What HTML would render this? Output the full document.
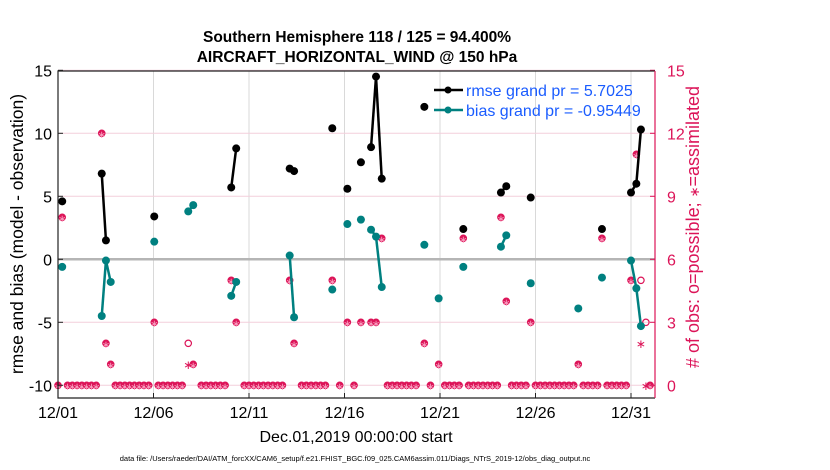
<!DOCTYPE html>
<html><head><meta charset="utf-8"><style>
html,body{margin:0;padding:0;background:#fff;}
svg{display:block;font-family:"Liberation Sans",Arial,sans-serif;}
</style></head><body>
<svg id="chart" width="830" height="470" viewBox="0 0 830 470" xmlns="http://www.w3.org/2000/svg">
<text x="357" y="42" text-anchor="middle" font-size="15.5" font-weight="bold">Southern Hemisphere 118 / 125 = 94.400%</text>
<text x="357" y="62" text-anchor="middle" font-size="15.5" font-weight="bold">AIRCRAFT_HORIZONTAL_WIND @ 150 hPa</text>
<g id="grid"></g>
<g id="marks"></g>
<g id="axes"></g>
<text x="356" y="442" text-anchor="middle" font-size="16">Dec.01,2019 00:00:00 start</text>
<text transform="translate(23,234) rotate(-90)" text-anchor="middle" font-size="17.5">rmse and bias (model - observation)</text>
<text transform="translate(699,227) rotate(-90)" text-anchor="middle" font-size="18" fill="#dc1458"># of obs: o=possible; <tspan font-size="13">∗</tspan>=assimilated</text>
<text x="355" y="461" text-anchor="middle" font-size="7.5">data file: /Users/raeder/DAI/ATM_forcXX/CAM6_setup/f.e21.FHIST_BGC.f09_025.CAM6assim.011/Diags_NTrS_2019-12/obs_diag_output.nc</text>
<g>
<line x1="434" y1="90" x2="463" y2="90" stroke="#000" stroke-width="2.5"/>
<circle cx="448" cy="90" r="3.5" fill="#000"/>
<text x="466" y="96" font-size="16" fill="#1a5cff">rmse grand pr = 5.7025</text>
<line x1="434" y1="110" x2="463" y2="110" stroke="#008080" stroke-width="2.5"/>
<circle cx="448" cy="110" r="3.5" fill="#008080"/>
<text x="466" y="116" font-size="16" fill="#1a5cff">bias grand pr = -0.95449</text>
</g>
</svg>
<script>
// data: times in days since 12/01 00:00
const times = [0.22,2.29,2.51,2.76,5.04,6.82,7.08,9.07,9.33,12.13,12.36,14.36,15.15,15.86,16.39,16.65,16.95,19.18,19.93,21.22,23.19,23.47,24.75,27.24,28.48,30.0,30.28,30.52,30.78];
const rmse = [4.6,6.8,1.5,null,3.4,null,null,5.7,8.8,7.2,7.0,10.4,5.6,7.7,8.9,14.5,6.4,12.1,null,2.4,5.3,5.8,4.9,null,2.4,5.3,6.0,10.3,null];
const bias = [-0.6,-4.5,-0.1,-1.8,1.4,3.8,4.3,-2.9,-1.8,0.3,-4.6,-2.4,2.8,3.15,2.35,1.8,-2.2,1.15,-3.1,-0.6,1.0,1.9,-1.9,-3.9,-1.45,-0.1,-2.3,-5.3,null];
const possible = [8,12,2,1,3,2,1,5,3,5,2,5,3,3,3,3,7,2,1,7,8,4,3,1,7,5,11,5,3];
const assimilated = [8,12,2,1,3,1,1,5,3,5,2,5,3,3,3,3,7,2,1,7,8,4,3,1,7,5,11,2,0];
const xTickLabels = ["12/01","12/06","12/11","12/16","12/21","12/26","12/31"];
const xTickDays = [0,5,10,15,20,25,30];
const yTicksLeft = [-10,-5,0,5,10,15];
const yTicksRight = [0,3,6,9,12,15];
const nSlots = 125;

const L=58,R=655,T=71,B=398;
const X=d=>L+d*19.1;
const Y=v=>259.3-v*12.6;
const YR=n=>Y(n/0.6-10);
const NS="http://www.w3.org/2000/svg";
const grid=document.getElementById('grid'),marks=document.getElementById('marks'),axes=document.getElementById('axes');
function mk(tag,attrs,parent){const e=document.createElementNS(NS,tag);for(const k in attrs)e.setAttribute(k,attrs[k]);parent.appendChild(e);return e;}

xTickDays.forEach((d,i)=>{
  const g=mk('line',{x1:X(d),y1:T,x2:X(d),y2:B,stroke:'#d9d9d9','stroke-width':1},grid);
  
  
  const tk=mk('line',{x1:X(d),y1:B,x2:X(d),y2:B-5,stroke:'#222','stroke-width':1},axes);
  
  
  const t=mk('text',{x:X(d),y:418,'text-anchor':'middle','font-size':16},axes);
  t.textContent=xTickLabels[i];
  
  
});
yTicksRight.forEach(n=>{
  const g=mk('line',{x1:L,y1:YR(n),x2:R,y2:YR(n),stroke:'#f3cfdc','stroke-width':1},grid);
  
  
  const t=mk('text',{x:R+12,y:YR(n)+6,'font-size':16,fill:'#dc1458'},axes);
  t.textContent=n;
  
  
  const tk=mk('line',{x1:R,y1:YR(n),x2:R-5,y2:YR(n),stroke:'#dc1458'},axes);
  
  
});
yTicksLeft.forEach(v=>{
  const t=mk('text',{x:L-6,y:Y(v)+6,'text-anchor':'end','font-size':16},axes);
  t.textContent=v;
  
  
  const tk=mk('line',{x1:L,y1:Y(v),x2:L+5,y2:Y(v),stroke:'#222'},axes);
  
  
});
const zl=mk('line',{x1:L,y1:Y(0),x2:R,y2:Y(0),stroke:'#b5b5b5','stroke-width':2.5},grid);



function obsMark(d,n,kind){
  const x=X(d),y=YR(n);
  if(kind!=='a'){
    const c=mk('circle',{cx:x,cy:y,r:3.2,fill:kind==='both'?'#dc1458':'none',stroke:'#dc1458','stroke-width':1.2},marks);
    
    
  }
  if(kind!=='p'){
    const s=mk('text',{x:x,y:y+4.5,'text-anchor':'middle','font-size':kind==='both'?10:12,fill:kind==='both'?'#f8a0c0':'#dc1458'},marks);
    s.textContent='∗';
    
    
  }
}
for(let k=0;k<nSlots;k++){
  const d=k*0.25;
  if(times.some(t=>Math.abs(t-d)<0.18))continue;
  obsMark(d,0,'both');
}
times.forEach((t,i)=>{
  if(possible[i]===assimilated[i])obsMark(t,possible[i],'both');
  else{obsMark(t,possible[i],'p');obsMark(t,assimilated[i],'a');}
});

function series(vals,color,name){
  for(let i=1;i<times.length;i++){
    if(vals[i]==null||vals[i-1]==null||times[i]-times[i-1]>0.35)continue;
    const l=mk('line',{x1:X(times[i-1]),y1:Y(vals[i-1]),x2:X(times[i]),y2:Y(vals[i]),stroke:color,'stroke-width':2.5},marks);
    
    
  }
  times.forEach((t,i)=>{
    if(vals[i]==null)return;
    const c=mk('circle',{cx:X(t),cy:Y(vals[i]),r:4,fill:color},marks);
    
    
  });
}
series(bias,'#008080','bias');
series(rmse,'#000','rmse');

const lb=mk('path',{d:`M${R},${T} L${L},${T} L${L},${B} L${R},${B}`,fill:'none',stroke:'#222','stroke-width':1.2},axes);


const ra=mk('line',{x1:R,y1:T,x2:R,y2:B,stroke:'#dc1458','stroke-width':1.2},axes);


</script>
</body></html>
